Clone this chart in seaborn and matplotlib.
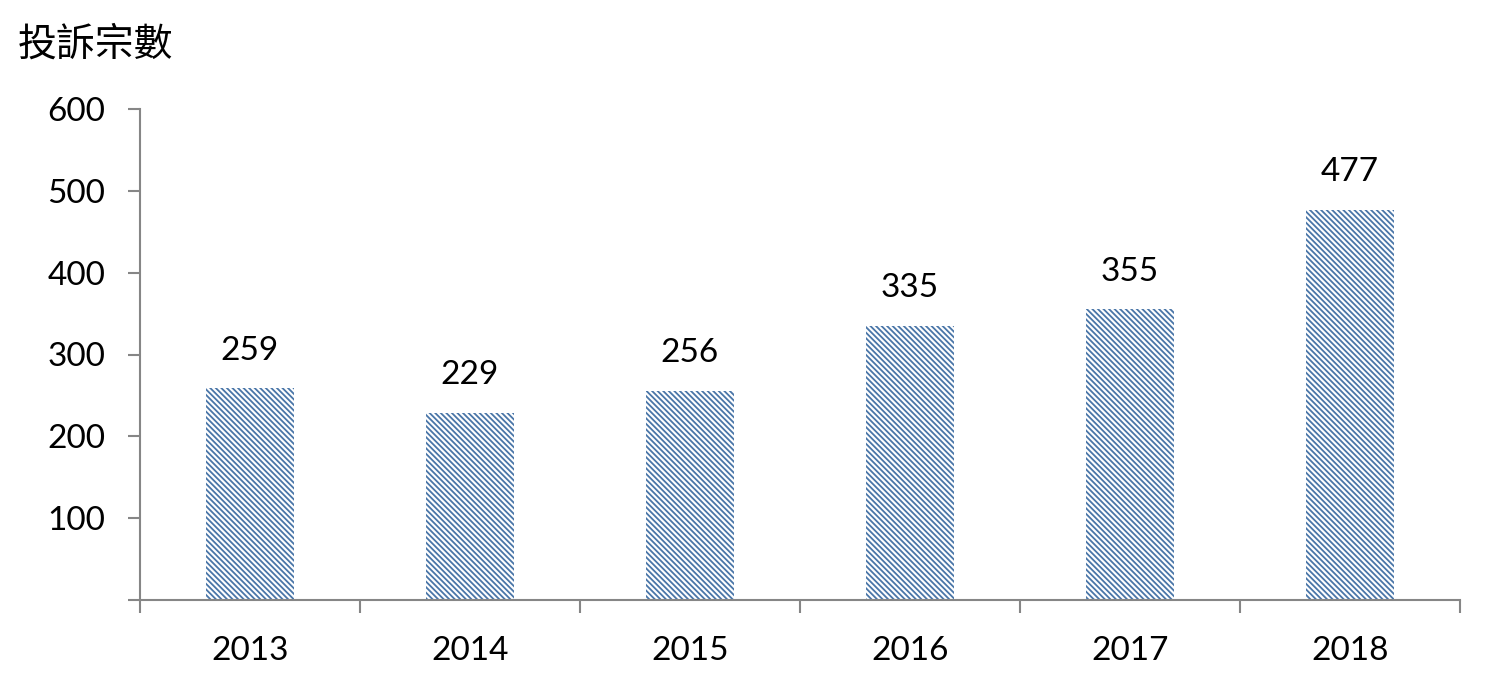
import matplotlib
matplotlib.use("Agg")
import matplotlib.pyplot as plt
import seaborn as sns
import pandas as pd

years = ["2013", "2014", "2015", "2016", "2017", "2018"]
complaints = [259, 229, 256, 335, 355, 477]
y_ticks = [0, 100, 200, 300, 400, 500, 600]
y_tick_labels = ["", "100", "200", "300", "400", "500", "600"]
y_title = "投訴宗數"

sns.set_theme(style="white")
plt.rcParams['font.family'] = ['Lato', 'Noto Sans CJK TC', 'DejaVu Sans']
plt.rcParams['hatch.linewidth'] = 1.3
plt.rcParams['hatch.color'] = '#4A76A8'

df = pd.DataFrame({"year": years, "count": complaints})

fig = plt.figure(figsize=(14.87, 6.87), dpi=100)
ax = fig.add_axes([140/1487, 1-600/687, 1320/1487, 491/687])

sns.barplot(data=df, x="year", y="count", ax=ax, width=0.4,
            color="white", edgecolor="#4A76A8", linewidth=0, saturation=1)
for p in ax.patches:
    p.set_hatch("\\\\\\\\\\\\")
    p.set_edgecolor("#4A76A8")
    p.set_facecolor("white")

for i, v in enumerate(complaints):
    ax.annotate(str(v), (i, v), xytext=(0, 27), textcoords="offset points",
                ha="center", va="center", fontsize=24, color="black")

ax.set_xlim(-0.5, len(years) - 0.5)
ax.set_ylim(0, 600)
ax.set_yticks(y_ticks)
ax.set_yticklabels(y_tick_labels)
ax.set_xticks(range(len(years)))
ax.set_xticks([i - 0.5 for i in range(len(years) + 1)], minor=True)
ax.tick_params(axis="x", which="major", length=0, labelsize=24, pad=26, colors="black")
ax.tick_params(axis="x", which="minor", length=9, width=1.5, color="#868686", direction="out", bottom=True)
ax.tick_params(axis="y", which="major", length=9, width=1.5, color="#868686", direction="out",
               labelsize=24, pad=16, left=True, labelcolor="black")
ax.set_xlabel("")
ax.set_ylabel("")
for s in ["top", "right"]:
    ax.spines[s].set_visible(False)
for s in ["left", "bottom"]:
    ax.spines[s].set_color("#868686")
    ax.spines[s].set_linewidth(1.5)

fig.text(18/1487, 1-45/687, y_title, ha="left", va="center", fontsize=28, fontweight="light",
         family=['Noto Sans CJK TC', 'DejaVu Sans'], color="black")

fig.savefig("out.png", dpi=100, facecolor="white")
